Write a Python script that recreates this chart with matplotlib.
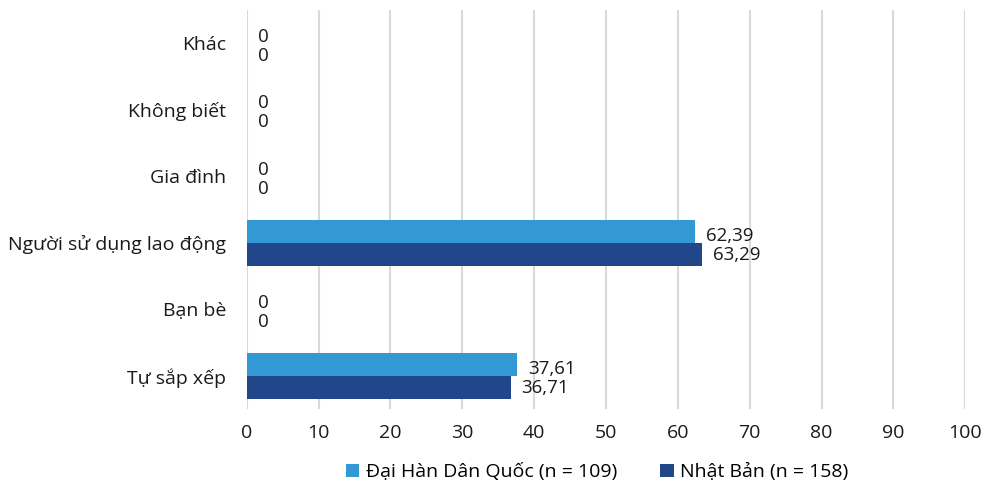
import matplotlib.pyplot as plt
import numpy as np

plt.rcParams['font.family'] = ['Open Sans', 'DejaVu Sans']

categories = ["Tự sắp xếp", "Bạn bè", "Người sử dụng lao động",
              "Gia đình", "Không biết", "Khác"]
series_names = ["Đại Hàn Dân Quốc (n = 109)", "Nhật Bản (n = 158)"]
korea = [37.61, 0, 62.39, 0, 0, 0]
japan = [36.71, 0, 63.29, 0, 0, 0]
x_ticks = list(range(0, 101, 10))

c_kr = '#3399D5'
c_jp = '#21468A'


def fmt(v):
    if v == 0:
        return "0"
    return f"{v:.2f}".replace(".", ",")


fig = plt.figure(figsize=(9.87, 4.87), dpi=100)
ax = fig.add_axes([0.250, 0.160, 0.728, 0.819])

y = np.arange(len(categories))
h = 0.345
bars_kr = ax.barh(y + h / 2, korea, height=h, color=c_kr, label=series_names[0], zorder=3)
bars_jp = ax.barh(y - h / 2, japan, height=h, color=c_jp, label=series_names[1], zorder=3)

# value labels just past the bar ends
for bar, v in zip(bars_kr, korea):
    ax.annotate(fmt(v), xy=(bar.get_width(), bar.get_y() + bar.get_height() / 2),
                xytext=(8, -3.5), textcoords='offset points',
                ha='left', va='center', fontsize=13.5, color='#1a1a1a')
for bar, v in zip(bars_jp, japan):
    ax.annotate(fmt(v), xy=(bar.get_width(), bar.get_y() + bar.get_height() / 2),
                xytext=(8, -0.5), textcoords='offset points',
                ha='left', va='center', fontsize=13.5, color='#1a1a1a')

ax.set_xlim(0, 100)
ax.set_ylim(-0.5, len(categories) - 0.5)
ax.set_xticks(x_ticks)
ax.set_yticks(y)
ax.set_yticklabels(categories)
ax.tick_params(axis='both', length=0, labelsize=14, colors='#1a1a1a')
ax.tick_params(axis='y', pad=15)
ax.tick_params(axis='x', pad=11)

ax.grid(axis='x', color='#D9D9D9', linewidth=1.5, zorder=0)
for s in ['top', 'right', 'bottom', 'left']:
    ax.spines[s].set_visible(False)

fig.legend(handles=[bars_kr, bars_jp], labels=series_names,
           loc='center', bbox_to_anchor=(0.605, 0.03), ncol=2, frameon=False,
           fontsize=14, handlelength=0.7, handleheight=0.7, handletextpad=0.35,
           columnspacing=2.2)

fig.savefig("out.png", dpi=100)
